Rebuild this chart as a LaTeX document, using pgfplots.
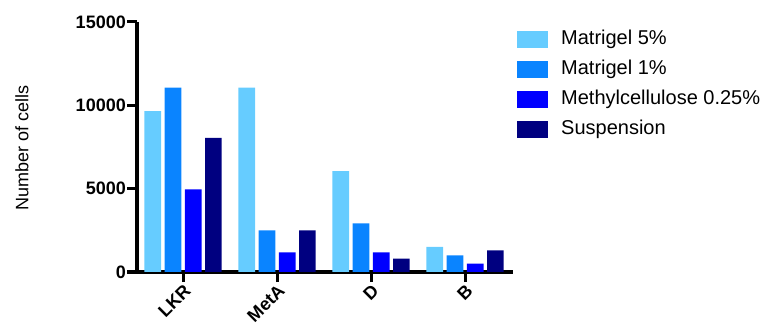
\documentclass[border=0pt]{standalone}
\usepackage{pgfplots}
\pgfplotsset{compat=1.18}
\usepackage{fontspec}
\setmainfont{Liberation Sans}
\definecolor{cA}{HTML}{66CCFF}
\definecolor{cB}{HTML}{0A84FF}
\definecolor{cC}{HTML}{0000FF}
\definecolor{cD}{HTML}{000080}
\begin{document}
\begin{tikzpicture}
\useasboundingbox (0,0) rectangle (769bp,327bp);
\begin{axis}[
  at={(137bp,55bp)}, anchor=south west,
  scale only axis, width=376bp, height=250bp,
  xmin=-0.49, xmax=3.51, ymin=0, ymax=15000,
  axis x line*=bottom, axis y line*=left,
  axis line style={line width=3bp, black},
  ytick={0,5000,10000,15000},
  xtick={0,1,2,3}, xticklabels={LKR,MetA,D,B},
  tick align=outside, major tick length=10bp,
  tick style={line width=3bp, black},
  /pgf/number format/assume math mode=true,
  scaled y ticks=false,
  y tick label style={/pgf/number format/1000 sep={}, font=\fontsize{18bp}{18bp}\selectfont\bfseries, inner sep=1bp},
  x tick label style={rotate=45, anchor=north east, font=\fontsize{18bp}{18bp}\selectfont\bfseries, inner sep=1bp},
  ylabel={Number of cells},
  ylabel style={at={(axis description cs:-0.306,0.496)}, anchor=center, font=\fontsize{18bp}{18bp}\selectfont},
  ybar=3.5bp, bar width=16.7bp,
  legend image code/.code={\fill[#1] (0bp,-8.5bp) rectangle (31bp,8.5bp); \path (44bp,0bp);},
  legend style={at={(axis description cs:1.0106,0.968)}, anchor=north west, draw=none, fill=none,
    inner sep=0pt, row sep=11bp, font=\fontsize{20bp}{20bp}\selectfont,
    nodes={inner sep=0pt, text height=14bp, text depth=5bp}},
  legend cell align=left,
]
\addplot[fill=cA, draw=none] coordinates {(0,9650) (1,11060) (2,6050) (3,1500)};
\addplot[fill=cB, draw=none] coordinates {(0,11060) (1,2500) (2,2920) (3,1000)};
\addplot[fill=cC, draw=none] coordinates {(0,4950) (1,1180) (2,1180) (3,500)};
\addplot[fill=cD, draw=none] coordinates {(0,8040) (1,2500) (2,800) (3,1300)};
\legend{Matrigel 5\%, Matrigel 1\%, Methylcellulose 0.25\%, Suspension}
\end{axis}
\end{tikzpicture}
\end{document}
